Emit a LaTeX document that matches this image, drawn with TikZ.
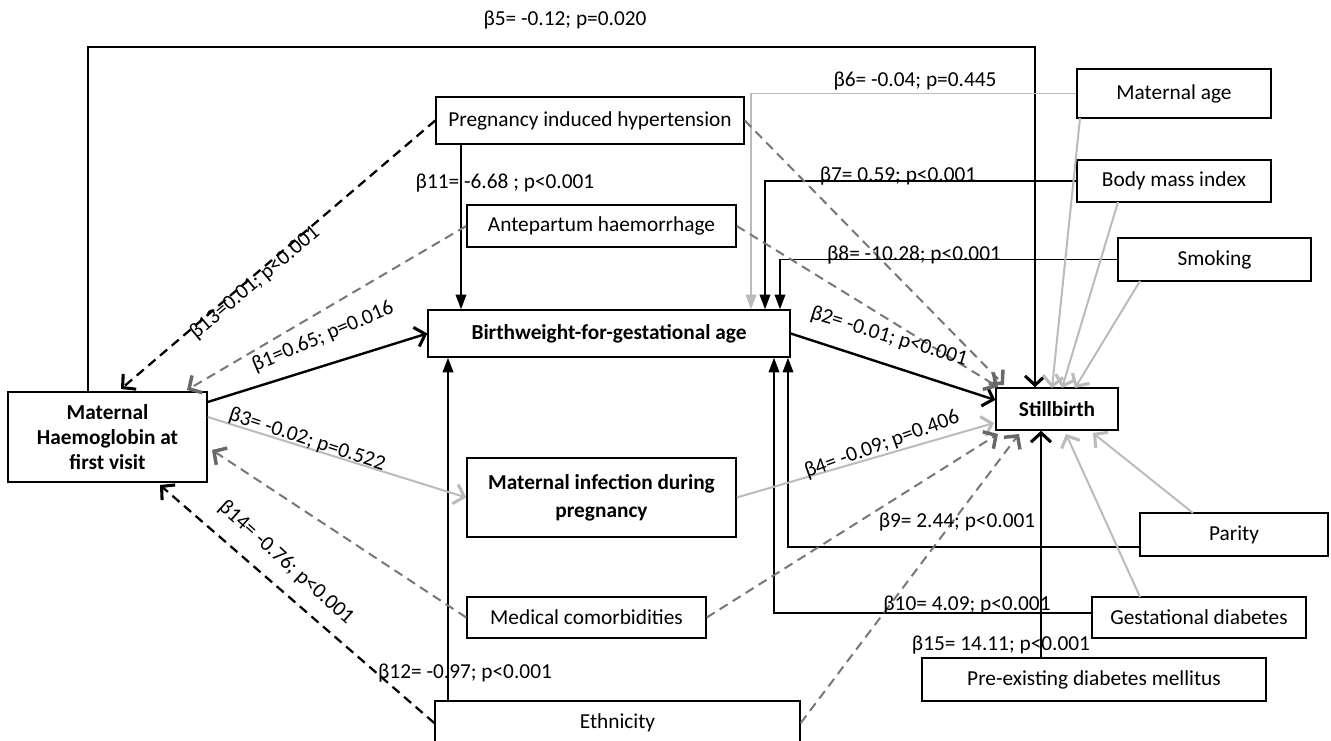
\documentclass[tikz,border=0pt]{standalone}
\usepackage{fontspec}
\setmainfont{Carlito}
\usetikzlibrary{arrows.meta}
\definecolor{lg}{HTML}{BBBBBB}
\definecolor{mg}{HTML}{777777}
\definecolor{dg}{HTML}{686868}
\begin{document}
\begin{tikzpicture}[x=0.75pt,y=-0.75pt,
  font=\fontsize{16}{19}\selectfont,
  box/.style={draw, line width=1.1pt, inner sep=2pt, align=center},
  lab/.style={inner sep=0pt},
  barb/.style={-{Straight Barb[length=7pt,width=15pt,line width=2.3pt]}},
  tri/.style={-{Triangle[length=11pt,width=8pt]}},
  thickblk/.style={draw=black, line width=1.8pt, barb},
  thinblk/.style={draw=black, line width=1.1pt, tri},
  dashblk/.style={draw=black, line width=1.7pt, dash pattern=on 7pt off 4.5pt, barb},
  dashgray/.style={draw=mg, line width=1.5pt, dash pattern=on 7pt off 4.5pt, -{Straight Barb[length=7pt,width=15pt,color=dg,line width=2.6pt]}},
  lgline/.style={draw=lg, line width=1.5pt, barb},
  lgtri/.style={draw=lg, line width=1.1pt, tri}
]
\useasboundingbox (0,0) rectangle (1331,741);
\clip (0,0) rectangle (1331,741);

% boxes
\node[box, font=\fontsize{16}{19}\selectfont\bfseries, minimum width=199*0.75pt, minimum height=90*0.75pt] (hb) at (107.5,437) {Maternal\\Haemoglobin at\\first visit};
\node[box, minimum width=308*0.75pt, minimum height=47*0.75pt] (pih) at (590,120.5) {Pregnancy induced hypertension};
\node[box, minimum width=269*0.75pt, minimum height=42*0.75pt] (aph) at (601.5,226) {Antepartum haemorrhage};
\node[box, font=\fontsize{16}{19}\selectfont\bfseries, minimum width=362*0.75pt, minimum height=47*0.75pt] (bw) at (609,333.5) {Birthweight-for-gestational age};
\node[box, font=\fontsize{16}{21}\selectfont\bfseries, minimum width=269*0.75pt, minimum height=79*0.75pt] (mi) at (601.5,497.5) {Maternal infection during\\pregnancy};
\node[box, minimum width=239*0.75pt, minimum height=41*0.75pt] (mc) at (586.5,617.5) {Medical comorbidities};
\node[box, minimum width=365*0.75pt, minimum height=44*0.75pt] (eth) at (617.5,723) {Ethnicity};
\node[box, minimum width=194*0.75pt, minimum height=49*0.75pt] (ma) at (1174,93.5) {Maternal age};
\node[box, minimum width=194*0.75pt, minimum height=42*0.75pt] (bmi) at (1174,181) {Body mass index};
\node[box, minimum width=193*0.75pt, minimum height=43*0.75pt] (smk) at (1214.5,259.5) {Smoking};
\node[box, font=\fontsize{16}{19}\selectfont\bfseries, minimum width=122*0.75pt, minimum height=42*0.75pt] (sb) at (1057,409) {Stillbirth};
\node[box, minimum width=188*0.75pt, minimum height=43*0.75pt] (par) at (1234,534.5) {Parity};
\node[box, minimum width=214*0.75pt, minimum height=41*0.75pt] (gd) at (1199,617.5) {Gestational diabetes};
\node[box, minimum width=344*0.75pt, minimum height=43*0.75pt] (pre) at (1094,679.5) {Pre-existing diabetes mellitus};

% helper coordinates
\coordinate (t5a) at (88,47);
\coordinate (t5b) at (1035,47);
\coordinate (x461) at (461,0);
\coordinate (x448) at (448,0);
\coordinate (x751) at (751,0);
\coordinate (x765) at (765,0);
\coordinate (x780) at (780,0);
\coordinate (x774) at (774,0);
\coordinate (x788) at (788,0);
\coordinate (x1041) at (1041,0);
\coordinate (y547) at (0,547);
\coordinate (y613) at (0,613);
\coordinate (e13) at (121,389);
\coordinate (eaph) at (187,390);
\coordinate (s1) at (0,402);
\coordinate (s3) at (0,417);
\coordinate (emc) at (212,450);
\coordinate (e14) at (160,485);
\coordinate (e2) at (0,400);
\coordinate (e4) at (994,423);
\coordinate (epih) at (1004,385);
\coordinate (eaph2) at (998,387);
\coordinate (emc2) at (998,434);
\coordinate (eeth) at (1019,434);
\coordinate (mas) at (1080,118);
\coordinate (bmis) at (1118,202);
\coordinate (smks) at (1140,281);
\coordinate (pars) at (1193,513);
\coordinate (gds) at (1140,597);
\coordinate (ema) at (1052,388);
\coordinate (ebmi) at (1062,388);
\coordinate (esmk) at (1075,388);
\coordinate (epar) at (1093,433);
\coordinate (egd) at (1066,434);

% connectors into Birthweight
\draw[thickblk] (hb.north -| t5a) |- (t5b) -- (sb.north -| t5b);
\draw[thinblk] (pih.south -| x461) -- (bw.north -| x461);
\draw[draw=black, line width=1.5pt, tri] (eth.north -| x448) -- (bw.south -| x448);
\draw[lgtri] (ma.west) -| (bw.north -| x751);
\draw[thinblk] (bmi.west) -| (bw.north -| x765);
\draw[thinblk] (smk.west) -| (bw.north -| x780);
\draw[thinblk] (par.west |- y547) -| (bw.south -| x788);
\draw[thinblk] (gd.west |- y613) -| (bw.south -| x774);

% connectors into Maternal Haemoglobin
\draw[dashblk] (pih.west) -- (e13);
\draw[dashgray] (aph.west) -- (eaph);
\draw[dashgray] (mc.west) -- (emc);
\draw[dashblk] (eth.west) -- (e14);

% from Maternal Haemoglobin
\draw[thickblk] (hb.east |- s1) -- (bw.west);
\draw[lgline] (hb.east |- s3) -- (mi.west);

% into Stillbirth
\draw[thickblk] (bw.east) -- (sb.west |- e2);
\draw[lgline] (mi.east) -- (e4);
\draw[dashgray] (pih.east) -- (epih);
\draw[dashgray] (aph.east) -- (eaph2);
\draw[dashgray] (mc.east) -- (emc2);
\draw[dashgray] (eth.east) -- (eeth);
\draw[lgline] (mas) -- (ema);
\draw[lgline] (bmis) -- (ebmi);
\draw[lgline] (smks) -- (esmk);
\draw[lgline] (pars) -- (epar);
\draw[lgline] (gds) -- (egd);
\draw[draw=black, line width=2.2pt, barb] (pre.north -| x1041) -- (sb.south -| x1041);

% labels
\node[lab] (l5) at (565,20) {β5= -0.12; p=0.020};
\node[lab] (l6) at (915,81) {β6= -0.04; p=0.445};
\node[lab] (l7) at (898,176) {β7= 0.59; p<0.001};
\node[lab] (l8) at (914,255) {β8= -10.28; p<0.001};
\node[lab] (l11) at (505,183) {β11= -6.68 ; p<0.001};
\node[lab, rotate=40] (l13) at (255,283) {β13=0.01; p<0.001};
\node[lab, rotate=23] (l1) at (323,337) {β1=0.65; p=0.016};
\node[lab, rotate=-18] (l3) at (307,440) {β3= -0.02; p=0.522};
\node[lab, rotate=-42] (l14) at (286,563) {β14= -0.76; p<0.001};
\node[lab] (l12) at (465,673) {β12= -0.97; p<0.001};
\node[lab, rotate=-17] (l2) at (889,337) {β2= -0.01; p<0.001};
\node[lab, rotate=20] (l4) at (882,445) {β4= -0.09; p=0.406};
\node[lab] (l9) at (957,522) {β9= 2.44; p<0.001};
\node[lab] (l10) at (967,605) {β10= 4.09; p<0.001};
\node[lab] (l15) at (1001,645) {β15= 14.11; p<0.001};
\end{tikzpicture}
\end{document}
